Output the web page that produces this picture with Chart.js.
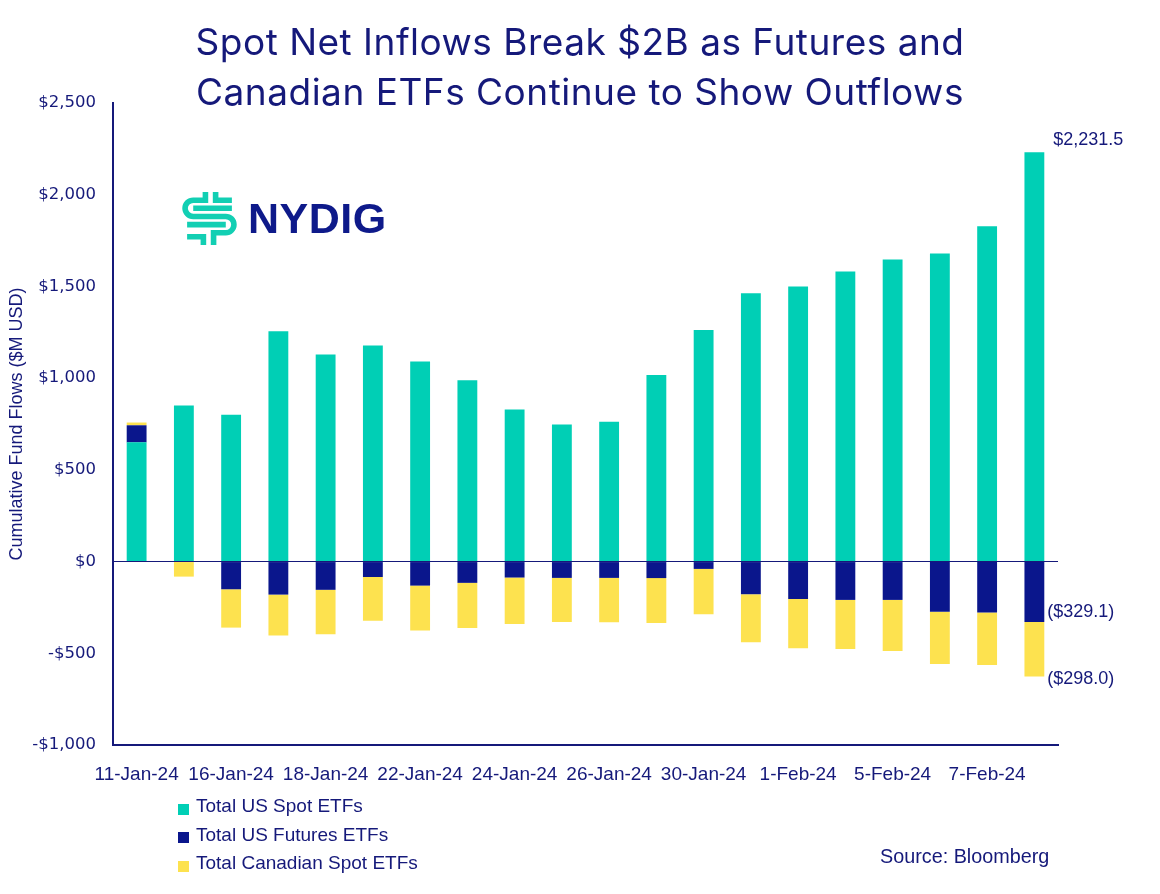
<!DOCTYPE html>
<html>
<head>
<meta charset="utf-8">
<script src="https://cdn.jsdelivr.net/npm/chart.js@4.4.1/dist/chart.umd.min.js"></script>
<style>
  body { margin: 0; background: #fff; }
  #wrap { position: relative; width: 1160px; height: 894px; overflow: hidden; }
  #title {
    position: absolute; left: 0; top: 17px; width: 1160px;
    text-align: center; font-family: Inter, "Open Sans", sans-serif;
    font-size: 37px; letter-spacing: 0.5px; line-height: 50px; color: #15197a;
  }
  #logo { position: absolute; left: 181px; top: 188px; height: 60px; display: flex; align-items: center; }
  #logo span {
    font-family: "Liberation Sans", Arial, sans-serif; font-weight: bold;
    font-size: 43px; color: #0e1a8a; margin-left: 10px; letter-spacing: 0.5px;
  }
  #legend { position: absolute; left: 178px; top: 792px; font-family: "Liberation Sans", Arial, sans-serif; font-size: 19px; color: #15197a; }
  #legend div { height: 28.5px; display: flex; align-items: center; }
  #legend i { display: inline-block; width: 11px; height: 11px; margin-right: 7px; margin-top: 6px; }
  #source { position: absolute; left: 880px; top: 845px; font-family: "Liberation Sans", Arial, sans-serif; font-size: 19.8px; color: #15197a; }
</style>
</head>
<body>
<div id="wrap">
  <canvas id="chart" width="1160" height="894"></canvas>
  <div id="title">Spot Net Inflows Break $2B as Futures and<br>Canadian ETFs Continue to Show Outflows</div>
  <div id="logo">
    <svg width="57" height="57" viewBox="0 0 56 56" fill="none" stroke="#12cfb3" stroke-width="5.5" stroke-linecap="butt">
      <path d="M24 2 V10 H12 A8 8 0 0 0 12 26 H44 A8 8 0 0 1 44 42 H32 V54"/>
      <path d="M34 2 V10 H50"/>
      <path d="M22 54 V46 H6"/>
      <path d="M50 18 H12"/>
      <path d="M6 34 H44"/>
    </svg>
    <span>NYDIG</span>
  </div>
  <div id="legend"></div>
  <div id="source">Source: Bloomberg</div>
</div>
<script>
const labels = ["11-Jan-24", "12-Jan-24", "16-Jan-24", "17-Jan-24", "18-Jan-24", "19-Jan-24", "22-Jan-24",
    "23-Jan-24", "24-Jan-24", "25-Jan-24", "26-Jan-24", "29-Jan-24", "30-Jan-24", "31-Jan-24",
    "1-Feb-24", "2-Feb-24", "5-Feb-24", "6-Feb-24", "7-Feb-24", "8-Feb-24"];
const usSpot = [650, 851, 800, 1256, 1129, 1178, 1091, 989, 829, 747, 762, 1017, 1263, 1463, 1499, 1581, 1647, 1679, 1828, 2231.5];
const usFutures = [93, 0, -151, -180, -154, -84, -131, -116, -87, -89, -89, -90, -40, -178, -204, -209, -209, -273, -278, -329.1];
const canadianSpot = [15, -82, -209, -223, -242, -238, -245, -246, -253, -241, -242, -245, -247, -262, -269, -268, -278, -285, -286, -298.0];
const yTicks = [-1000, -500, 0, 500, 1000, 1500, 2000, 2500];

const navy = "#15197a";
const teal = "#00cfb5";
const darkBlue = "#0a168c";
const yellow = "#fde24f";

const datasets = [
    { label: "Total US Spot ETFs", data: usSpot, backgroundColor: teal },
    { label: "Total US Futures ETFs", data: usFutures, backgroundColor: darkBlue },
    { label: "Total Canadian Spot ETFs", data: canadianSpot, backgroundColor: yellow },
];

function money(v) {
    const s = "$" + Math.abs(v).toLocaleString("en-US");
    return v < 0 ? "-" + s : s;
}

// labels on the last bar
const endLabels = {
    id: "endLabels",
    afterDatasetsDraw(chart) {
        const ctx = chart.ctx;
        const last = labels.length - 1;
        ctx.save();
        ctx.font = "18px 'Liberation Sans', Arial, sans-serif";
        ctx.fillStyle = navy;
        ctx.textAlign = "left";
        ctx.textBaseline = "middle";
        const spot = chart.getDatasetMeta(0).data[last];
        const fut = chart.getDatasetMeta(1).data[last];
        const can = chart.getDatasetMeta(2).data[last];
        const right = spot.x + spot.width / 2;
        ctx.fillText("$" + usSpot[last].toLocaleString("en-US", { minimumFractionDigits: 1 }), right + 9, spot.y - 12);
        ctx.fillText("($" + Math.abs(usFutures[last]).toFixed(1) + ")", right + 3, fut.y - 10);
        ctx.fillText("($" + Math.abs(canadianSpot[last]).toFixed(1) + ")", right + 3, can.y + 2);
        ctx.restore();
    }
};

new Chart(document.getElementById("chart"), {
    type: "bar",
    data: { labels: labels, datasets: datasets },
    options: {
        responsive: false,
        animation: false,
        layout: { padding: { top: 103, right: 102, bottom: 109, left: 0 } },
        datasets: { bar: { categoryPercentage: 1, barPercentage: 0.42 } },
        plugins: {
            legend: { display: false },
            tooltip: { enabled: false },
        },
        scales: {
            x: {
                stacked: true,
                grid: { display: false },
                border: { display: true, color: navy, width: 2 },
                ticks: {
                    autoSkip: false,
                    maxRotation: 0,
                    padding: 10,
                    color: navy,
                    font: { family: "'Liberation Sans Narrow', 'Liberation Sans', Arial, sans-serif", size: 19 },
                    callback: (v, i) => (i % 2 === 0 ? labels[i] : ""),
                },
                afterFit: (scale) => { scale.height = 40; },
            },
            y: {
                stacked: true,
                min: -1000,
                max: 2500,
                afterBuildTicks: (scale) => { scale.ticks = yTicks.map((v) => ({ value: v })); },
                grid: {
                    drawTicks: false,
                    color: (c) => (c.tick && c.tick.value === 0 ? navy : "rgba(0,0,0,0)"),
                    lineWidth: 1,
                },
                border: { display: true, color: navy, width: 2 },
                ticks: {
                    padding: 17,
                    color: navy,
                    font: { family: "'DejaVu Sans', sans-serif", size: 16.5 },
                    callback: (v) => money(v),
                },
                title: {
                    display: true,
                    text: "Cumulative Fund Flows ($M USD)",
                    color: navy,
                    padding: { top: 6, bottom: 0 },
                    font: { family: "'Liberation Sans', Arial, sans-serif", size: 18 },
                },
                afterFit: (scale) => { scale.width = 113; },
            },
        },
    },
    plugins: [endLabels],
});

const legendBox = document.getElementById("legend");
datasets.forEach((d) => {
    const row = document.createElement("div");
    row.innerHTML = `<i style="background:${d.backgroundColor}"></i>${d.label}`;
    legendBox.appendChild(row);
});
</script>
</body>
</html>
